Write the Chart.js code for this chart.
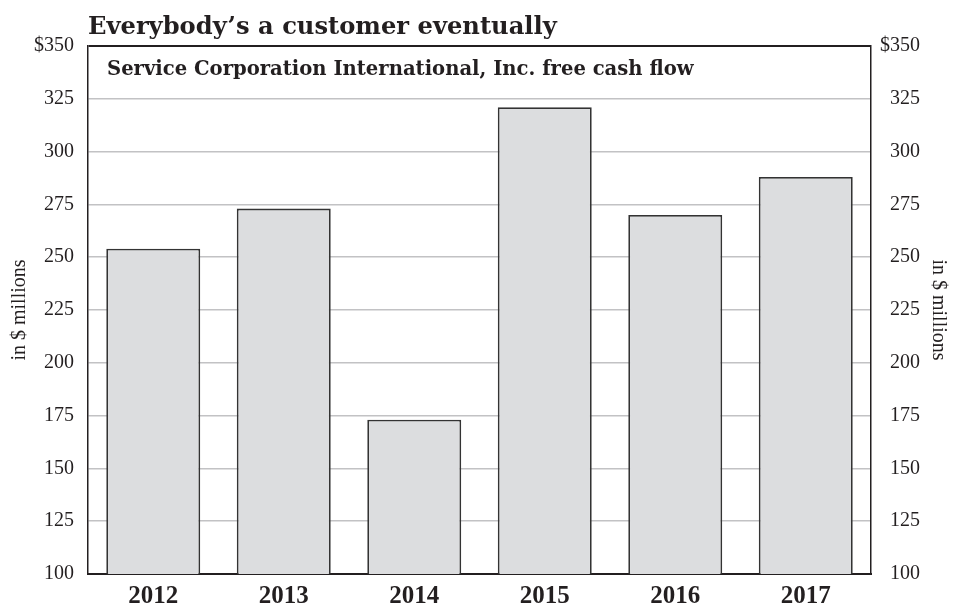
<!DOCTYPE html>
<html>
<head>
<meta charset="utf-8">
<script src="https://cdn.jsdelivr.net/npm/chart.js@4"></script>
<style>
html,body{margin:0;padding:0;background:#fff;}
#wrap{width:959px;height:610px;position:relative;}
</style>
</head>
<body>
<div id="wrap"><canvas id="c" width="959" height="610"></canvas></div>
<script>
const titleText = "Everybody\u2019s a customer eventually";
const subtitleText = "Service Corporation International, Inc. free cash flow";
const axisTitle = "in $ millions";
const years = ["2012", "2013", "2014", "2015", "2016", "2017"];
const freeCashFlow = [254, 273, 173, 321, 270, 288];
const yTickValues = [100, 125, 150, 175, 200, 225, 250, 275, 300, 325, 350];
const yTickLabels = ["100", "125", "150", "175", "200", "225", "250", "275", "300", "325", "$350"];

const INK = '#231f20';
const tickFont = {family: '"Liberation Serif", serif', size: 20};
const labelFor = v => yTickLabels[yTickValues.indexOf(v)] ?? String(v);

const textPlugin = {
  id: 'textPlugin',
  afterDraw(chart) {
    const {ctx, chartArea} = chart;
    ctx.save();
    ctx.fillStyle = INK;
    ctx.textAlign = 'left';
    ctx.textBaseline = 'alphabetic';
    ctx.font = 'bold 24.2px "DejaVu Serif", serif';
    ctx.fillText(titleText, chartArea.left, 34);
    ctx.font = 'bold 19.6px "DejaVu Serif", serif';
    ctx.fillText(subtitleText, chartArea.left + 19, 75);
    // right-side tick labels, right aligned, from the right scale
    const ys = chart.scales.yRight;
    ctx.font = '20px "Liberation Serif", serif';
    ctx.textAlign = 'right';
    ctx.textBaseline = 'middle';
    ys.ticks.forEach(t => {
      ctx.fillText(labelFor(t.value), 920, ys.getPixelForValue(t.value));
    });
    ctx.restore();
  }
};

new Chart(document.getElementById('c'), {
  type: 'bar',
  data: {
    labels: years,
    datasets: [{
      data: freeCashFlow,
      backgroundColor: '#dcdddf',
      borderColor: '#333333',
      borderWidth: 1.8,
      categoryPercentage: 1,
      barPercentage: 0.72,
      yAxisID: 'y'
    }]
  },
  options: {
    responsive: false,
    animation: false,
    devicePixelRatio: 1,
    layout: {padding: {top: 46, left: 0, right: 0, bottom: 0}},
    plugins: {legend: {display: false}, tooltip: {enabled: false}, title: {display: false}},
    scales: {
      x: {
        grid: {display: false},
        border: {display: true, color: INK, width: 2},
        ticks: {color: INK, padding: 0, font: {family: '"Liberation Serif", serif', size: 25, weight: 'bold'}},
        afterFit(s) { s.height = 36; }
      },
      y: {
        position: 'left',
        min: 100, max: 350,
        ticks: {stepSize: 25, color: INK, padding: 14, font: tickFont, callback: v => labelFor(v)},
        grid: {
          color: c => c.tick && c.tick.value === 350 ? INK : '#c2c2c4',
          lineWidth: c => c.tick && c.tick.value === 350 ? 2 : 1.5,
          drawTicks: false
        },
        border: {display: true, color: INK, width: 1.5},
        title: {display: true, text: axisTitle, color: INK, font: {family: '"Liberation Serif", serif', size: 20}, padding: {top: 8, bottom: 0}},
        afterFit(s) { s.width = 88; }
      },
      yRight: {
        position: 'right',
        min: 100, max: 350,
        ticks: {stepSize: 25, display: false},
        grid: {display: false, drawTicks: false},
        border: {display: true, color: INK, width: 1.5},
        title: {display: true, text: axisTitle, color: INK, font: {family: '"Liberation Serif", serif', size: 20}, padding: {top: 9, bottom: 0}},
        afterFit(s) { s.width = 88; }
      }
    }
  },
  plugins: [textPlugin]
});
</script>
</body>
</html>
